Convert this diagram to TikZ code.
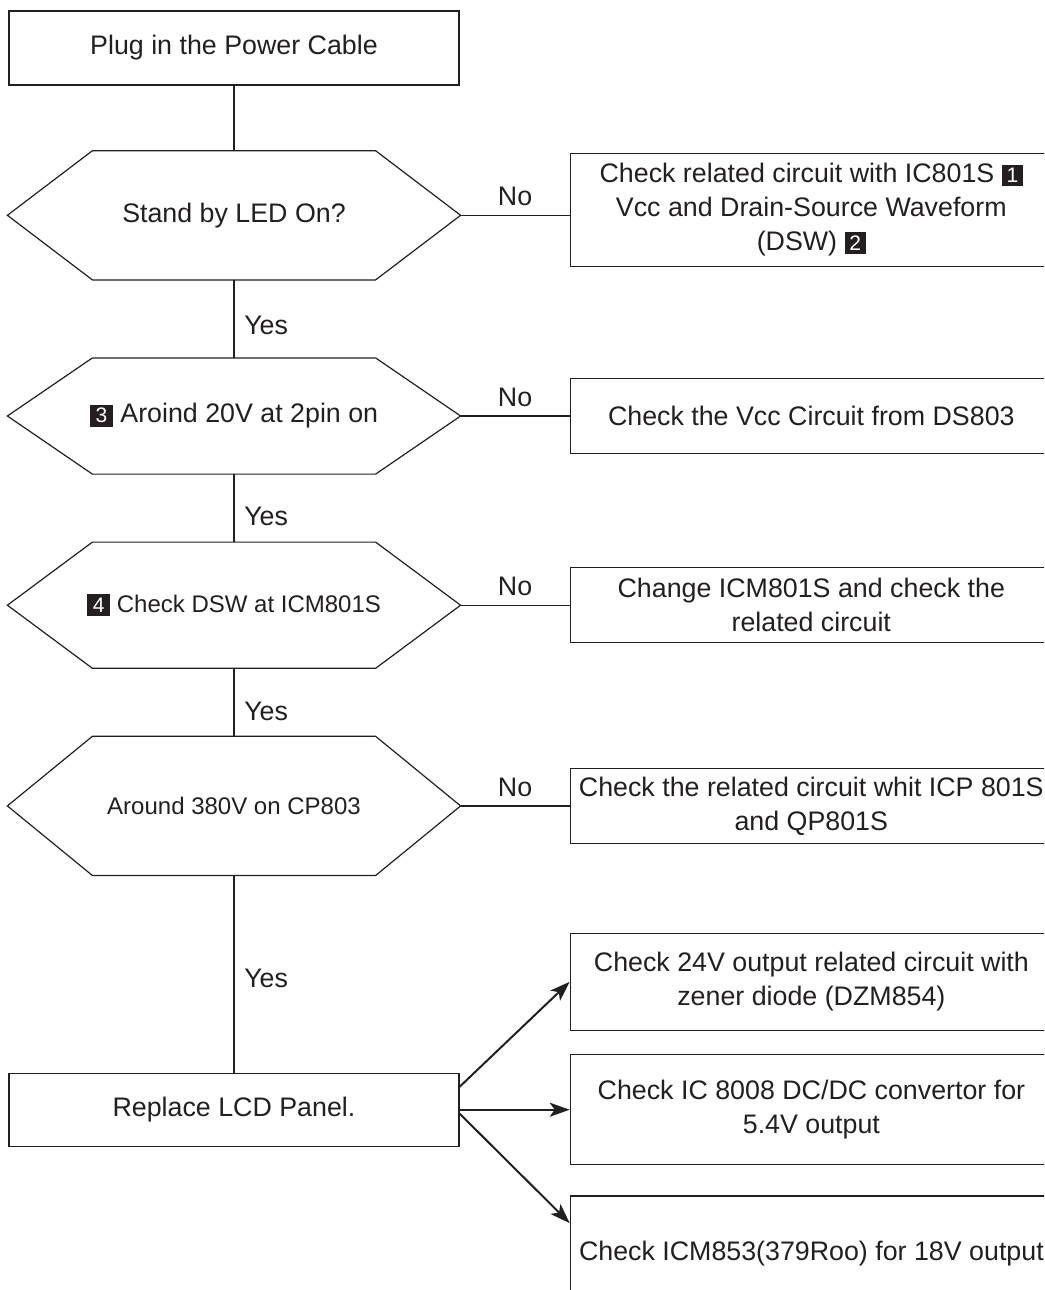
\documentclass[tikz,border=0pt]{standalone}
\usepackage{fontspec}
\setmainfont{Liberation Sans}
\usepackage{xcolor}
\usepackage{tikz}
\usetikzlibrary{
arrows.meta,
positioning
}
\definecolor{ink}{HTML}{231F20}
\newcommand{\numtag}[2][7pt]{{\setlength{\fboxsep}{1.8pt}\colorbox{ink}{\makebox[#1]{\color{white}\fontsize{10.5}{10.5}\selectfont #2}}}}

\begin{document}
\begin{tikzpicture}[
color=ink,
line width=0.6pt,
font=\fontsize{13.4}{17}\selectfont,
box/.style={
rectangle,
draw,
line width=0.7pt,
minimum width=225pt,
minimum height=37pt,
align=center
},
hexa/.style={
rectangle,
minimum width=226pt
},
check/.style={
rectangle,
draw,
line width=0.7pt,
minimum width=241pt,
minimum height=37.5pt,
align=center
},
arrow/.style={-{Stealth[length=10pt,width=7pt,inset=2.5pt]},line width=1pt}
]
\useasboundingbox (0,0) rectangle (522pt,-645pt);
\clip (0,0) rectangle (522pt,-645pt);

\node[box] (plug) at (117pt,-24pt) {Plug in the Power Cable};
\node[hexa, minimum height=64pt, below=32.5pt of plug] (standby) {Stand by LED On?};
\node[hexa, minimum height=57.5pt, below=39pt of standby] (pin) {\numtag[8pt]{3} Aroind 20V at 2pin on\hspace{16pt}};
\node[hexa, minimum height=62.5pt, below=34pt of pin, font=\fontsize{12}{15}\selectfont] (dsw) {\raisebox{-5.5pt}{\numtag[8pt]{4} Check DSW at ICM801S}\hspace{16pt}};
\node[hexa, minimum height=69pt, below=34pt of dsw, font=\fontsize{12}{15}\selectfont] (bulk) {Around 380V on CP803};
\node[box, minimum height=36.5pt, below=98.5pt of bulk] (lcd) {Replace LCD Panel.};

% hexagon outlines
\foreach \h in {standby,pin,dsw,bulk}
\draw (\h.west) -- ([xshift=42.5pt]\h.north west) -- ([xshift=-42.5pt]\h.north east) -- (\h.east)
-- ([xshift=-42.5pt]\h.south east) -- ([xshift=42.5pt]\h.south west) -- cycle;

\node[check, minimum height=56.5pt, right=54.5pt of standby, yshift=2.75pt] (chkLed) {Check related circuit with IC801S \numtag{1}\\Vcc and Drain-Source Waveform\\(DSW) \numtag{2}};
\node[check, right=54.5pt of pin] (chkVcc) {Check the Vcc Circuit from DS803};
\node[check, right=54.5pt of dsw] (chkIcm) {Change ICM801S and check the\\related circuit};
\node[check, right=54.5pt of bulk] (chkPfc) {Check the related circuit whit ICP 801S\\and QP801S};
\node[check, minimum height=55pt, right=55pt of lcd] (chkDcdc) {Check IC 8008 DC/DC convertor for\\5.4V output};
\node[check, minimum height=48.5pt, above=11.5pt of chkDcdc] (chk24) {Check 24V output related circuit with\\zener diode (DZM854)};
\node[check, minimum height=57pt, below=15pt of chkDcdc] (chk18) {Check ICM853(379Roo) for 18V output};

\draw (plug) -- (standby);
\draw (standby) -- node[right=1.5pt, pos=0.58]{Yes} (pin);
\draw (pin) -- node[right=1.5pt, pos=0.62]{Yes} (dsw);
\draw (dsw) -- node[right=1.5pt, pos=0.64]{Yes} (bulk);
\draw (bulk) -- node[right=1.5pt, pos=0.52]{Yes} (lcd);

\draw (standby.east) -- node[above=1pt]{No} (standby.east -| chkLed.west);
\draw (pin.east) -- node[above=1pt]{No} (chkVcc);
\draw (dsw.east) -- node[above=1pt]{No} (chkIcm);
\draw (bulk.east) -- node[above=1pt]{No} (chkPfc);

\draw[arrow] ([yshift=11.5pt]lcd.east) -- (chk24.west);
\draw[arrow] (lcd.east) -- (chkDcdc.west);
\draw[arrow] ([yshift=-2pt]lcd.east) -- ([yshift=15pt]chk18.west);

\end{tikzpicture}
\end{document}
